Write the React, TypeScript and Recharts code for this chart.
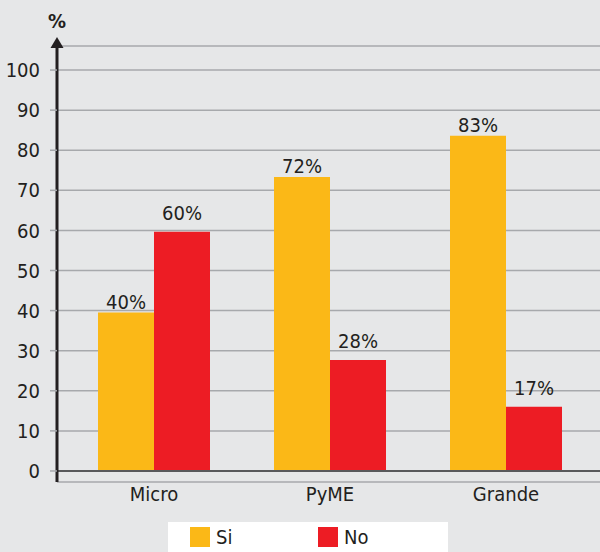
import {
  BarChart,
  Bar,
  XAxis,
  YAxis,
  CartesianGrid,
  ReferenceLine,
  LabelList,
} from "recharts";

const categories = ["Micro", "PyME", "Grande"];
const siValues = [39.5, 73.3, 83.6];
const noValues = [59.7, 27.7, 16];
const siLabels = ["40%", "72%", "83%"];
const noLabels = ["60%", "28%", "17%"];
const yTicks = [0, 10, 20, 30, 40, 50, 60, 70, 80, 90, 100];

const SI_COLOR = "#fbb817";
const NO_COLOR = "#ed1c24";
const TEXT = "#231f20";
const FONT = "'Liberation Sans Narrow', 'DejaVu Sans Condensed', 'Roboto', sans-serif";
const FS = 20;

const data = categories.map((name, i) => ({
  name,
  si: siValues[i],
  no: noValues[i],
  siLabel: siLabels[i],
  noLabel: noLabels[i],
}));

// flecha y "%" arriba del eje Y
function AxisArrow({ viewBox }: any) {
  const ax = viewBox.x + viewBox.width;
  const top = viewBox.y;
  return (
    <g>
      <polygon
        points={`${ax},${top - 9} ${ax - 6.5},${top + 2} ${ax + 6.5},${top + 2}`}
        fill={TEXT}
      />
      <text x={ax} y={top - 18} textAnchor="middle" fontSize={FS} fontWeight="bold" fill={TEXT} fontFamily={FONT}>
        %
      </text>
    </g>
  );
}

function LegendBox() {
  const items = [
    { label: "Si", color: SI_COLOR },
    { label: "No", color: NO_COLOR },
  ];
  return (
    <div
      style={{
        position: "absolute",
        left: 168,
        top: 522,
        width: 280,
        height: 30,
        display: "flex",
        background: "#fff",
        alignItems: "center",
        paddingLeft: 22,
        boxSizing: "border-box",
      }}
    >
      {items.map((it) => (
        <div key={it.label} style={{ display: "flex", alignItems: "center", width: 128 }}>
          <div style={{ width: 20, height: 20, background: it.color, marginRight: 6 }} />
          <span style={{ fontSize: FS, color: TEXT, fontFamily: FONT }}>{it.label}</span>
        </div>
      ))}
    </div>
  );
}

export default function App() {
  return (
    <div style={{ width: 600, height: 552, background: "#e6e7e8", position: "relative" }}>
      <style>{"body{margin:0}"}</style>
      <BarChart
        width={600}
        height={552}
        data={data}
        margin={{ top: 46, right: 0, left: 0, bottom: 40 }}
        barGap={0}
      >
        <CartesianGrid vertical={false} stroke="#a7a9ac" strokeWidth={1.5} />
        <XAxis
          dataKey="name"
          height={30}
          axisLine={false}
          tickLine={false}
          tickSize={0}
          tickMargin={5}
          padding={{ left: 9, right: 6 }}
          tick={{ fontSize: FS, fill: TEXT, fontFamily: FONT }}
        />
        <YAxis
          width={57}
          domain={[-2.75, 106]}
          ticks={yTicks}
          allowDataOverflow
          axisLine={{ stroke: TEXT, strokeWidth: 3 }}
          tickLine={{ stroke: "#a7a9ac", strokeWidth: 1.5 }}
          tickSize={7}
          tickMargin={10}
          tick={{ fontSize: FS, fill: TEXT, fontFamily: FONT }}
          label={<AxisArrow />}
        />
        <ReferenceLine y={0} stroke="#58595b" strokeWidth={2} />
        <Bar dataKey="si" fill={SI_COLOR} barSize={56} isAnimationActive={false}>
          <LabelList dataKey="siLabel" position="top" offset={4} fontSize={FS} fill={TEXT} fontFamily={FONT} />
        </Bar>
        <Bar dataKey="no" fill={NO_COLOR} barSize={56} isAnimationActive={false}>
          <LabelList dataKey="noLabel" position="top" offset={12} fontSize={FS} fill={TEXT} fontFamily={FONT} />
        </Bar>
      </BarChart>
      <LegendBox />
    </div>
  );
}
